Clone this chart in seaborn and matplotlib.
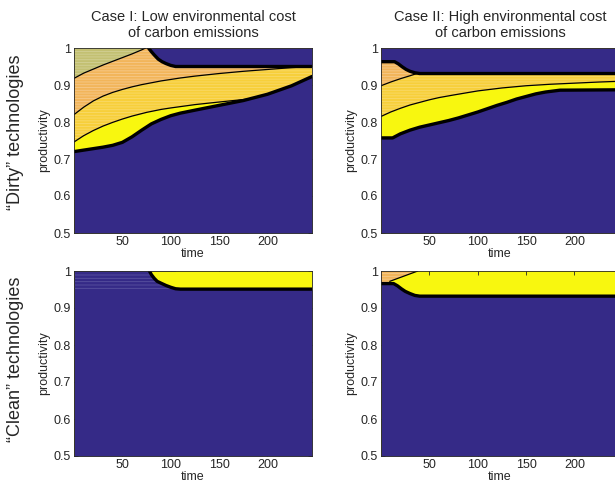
import numpy as np
import matplotlib.pyplot as plt
import seaborn as sns

# ---------------- data ----------------
# colours of the regions (MATLAB parula-like)
BLUE = "#352a87"
YELLOW = "#f8f70f"
GOLD = "#f7cf3a"
ORANGE = "#f2b55a"
OLIVE = "#c3c072"

# Dirty technologies, Case I
d1_olive_t = [0, 10, 20, 30, 40, 50, 60, 70, 74]
d1_olive_y = [0.918, 0.932, 0.943, 0.954, 0.964, 0.974, 0.984, 0.995, 1.0]
d1_gold_t = [0, 10, 20, 30, 40, 50, 60, 70, 80, 90, 100, 110, 125, 150, 175, 200, 225, 246]
d1_gold_y = [0.820, 0.840, 0.857, 0.870, 0.880, 0.888, 0.895, 0.901, 0.906, 0.911,
             0.915, 0.919, 0.924, 0.931, 0.937, 0.942, 0.947, 0.950]
d1_yellow_t = [0, 10, 20, 30, 40, 50, 60, 75, 90, 100, 125, 150, 165, 180]
d1_yellow_y = [0.746, 0.763, 0.777, 0.789, 0.799, 0.808, 0.816, 0.826, 0.834, 0.838,
               0.847, 0.854, 0.858, 0.862]
d1_low_t = [0, 10, 20, 30, 40, 50, 60, 70, 80, 90, 100, 110, 125, 150, 175, 200, 225, 246]
d1_low_y = [0.720, 0.724, 0.728, 0.732, 0.737, 0.745, 0.760, 0.778, 0.795, 0.807,
            0.817, 0.824, 0.832, 0.845, 0.858, 0.875, 0.898, 0.923]
d1_up_t = [77, 80, 83, 87, 91, 95, 100, 105, 246]
d1_up_y = [1.0, 0.990, 0.981, 0.970, 0.963, 0.958, 0.953, 0.950, 0.950]

# Dirty technologies, Case II
d2_orange_t = [0, 10, 20, 30, 37]
d2_orange_y = [0.898, 0.908, 0.917, 0.925, 0.931]
d2_yellow_t = [0, 10, 20, 30, 40, 50, 60, 75, 100, 125, 150, 175, 200, 225, 246]
d2_yellow_y = [0.815, 0.827, 0.837, 0.846, 0.853, 0.860, 0.866, 0.873, 0.884, 0.892,
               0.898, 0.902, 0.905, 0.908, 0.910]
d2_low_t = [0, 12, 20, 30, 40, 50, 60, 70, 80, 90, 100, 110, 120, 130, 140, 150,
            160, 170, 185, 246]
d2_low_y = [0.757, 0.757, 0.768, 0.778, 0.786, 0.792, 0.798, 0.804, 0.811, 0.819,
            0.827, 0.836, 0.845, 0.853, 0.862, 0.869, 0.876, 0.881, 0.886, 0.887]
d2_up_t = [0, 14, 18, 22, 26, 30, 35, 40, 246]
d2_up_y = [0.963, 0.963, 0.957, 0.949, 0.942, 0.937, 0.933, 0.931, 0.931]

# Clean technologies, Case I
c1_t = [0, 78, 80, 83, 86, 90, 95, 100, 105, 110, 246]
c1_y = [1.0, 1.0, 0.990, 0.980, 0.972, 0.967, 0.961, 0.956, 0.952, 0.951, 0.951]

# Clean technologies, Case II
c2_orange_t = [0, 9, 38]
c2_orange_y = [0.966, 0.972, 1.0]
c2_t = [0, 13, 17, 21, 25, 30, 35, 40, 246]
c2_y = [0.966, 0.966, 0.960, 0.952, 0.945, 0.939, 0.934, 0.932, 0.932]

col_titles = ["Case I: Low environmental cost\nof carbon emissions",
              "Case II: High environmental cost\nof carbon emissions"]
row_titles = ["\u201cDirty\u201d technologies", "\u201cClean\u201d technologies"]
x_ticks = [50, 100, 150, 200]
y_ticks = [0.5, 0.6, 0.7, 0.8, 0.9, 1.0]
y_ticklabels = ["0.5", "0.6", "0.7", "0.8", "0.9", "1"]

# ---------------- style ----------------
sns.set_style("ticks")
plt.rcParams["font.family"] = ["Liberation Sans", "DejaVu Sans"]
plt.rcParams["xtick.direction"] = "in"
plt.rcParams["ytick.direction"] = "in"
plt.rcParams["hatch.linewidth"] = 0.6

fig = plt.figure(figsize=(6.15, 4.82), dpi=100)
W, H = 615, 482


def make_axes(x0, y_top):
    return fig.add_axes([x0 / W, 1 - (y_top + 185) / H, 238 / W, 185 / H])


ax_d1 = make_axes(74, 48)
ax_d2 = make_axes(381, 48)
ax_c1 = make_axes(74, 271)
ax_c2 = make_axes(381, 271)


def striped(ax, t, lo, hi, color, stripe):
    # faint horizontal banding like the MATLAB export
    ax.fill_between(t, lo, hi, facecolor=color, edgecolor=stripe, hatch="------", lw=0)


def thin(ax, t, y):
    sns.lineplot(x=t, y=y, ax=ax, color="black", lw=0.9, sort=False, estimator=None)


def thick(ax, t, y):
    sns.lineplot(x=t, y=y, ax=ax, color="black", lw=2.4, sort=False, estimator=None)


# Dirty, case I
ax = ax_d1
striped(ax, [0, 246], 0.5, 1.0, ORANGE, "#f6c98a")
striped(ax, d1_olive_t, d1_olive_y, 1.0, OLIVE, "#d2d095")
striped(ax, d1_gold_t, 0.5, d1_gold_y, GOLD, "#f9da6a")
ax.fill_between(d1_yellow_t, 0.5, d1_yellow_y, color=YELLOW, lw=0)
ax.fill_between(d1_up_t, d1_up_y, 1.0, color=BLUE, lw=0)
thin(ax, d1_olive_t, d1_olive_y)
thin(ax, d1_gold_t, d1_gold_y)
thin(ax, d1_yellow_t, d1_yellow_y)
ax.fill_between(d1_low_t, 0.5, d1_low_y, color=BLUE, lw=0)
thick(ax, d1_low_t, d1_low_y)
thick(ax, d1_up_t, d1_up_y)

# Dirty, case II
ax = ax_d2
striped(ax, [0, 246], 0.5, 1.0, GOLD, "#f9da6a")
striped(ax, d2_orange_t, d2_orange_y, 1.0, ORANGE, "#f6c98a")
ax.fill_between(d2_yellow_t, 0.5, d2_yellow_y, color=YELLOW, lw=0)
ax.fill_between(d2_up_t, d2_up_y, 1.0, color=BLUE, lw=0)
thin(ax, d2_orange_t, d2_orange_y)
thin(ax, d2_yellow_t, d2_yellow_y)
ax.fill_between(d2_low_t, 0.5, d2_low_y, color=BLUE, lw=0)
thick(ax, d2_low_t, d2_low_y)
thick(ax, d2_up_t, d2_up_y)

# Clean, case I
ax = ax_c1
ax.set_facecolor(YELLOW)
ax.fill_between(c1_t, 0.5, c1_y, color=BLUE, lw=0)
ax.fill_between([0, 105], 0.95, 1.0, facecolor="none", edgecolor="#5a52a0",
                hatch="-----", lw=0)
ax.fill_between(c1_t, c1_y, 1.0, color=YELLOW, lw=0)
thick(ax, c1_t[1:], c1_y[1:])

# Clean, case II
ax = ax_c2
ax.set_facecolor(YELLOW)
striped(ax, c2_orange_t, c2_orange_y, 1.0, ORANGE, "#f6c98a")
thin(ax, c2_orange_t[1:], c2_orange_y[1:])
ax.fill_between(c2_t, 0.5, c2_y, color=BLUE, lw=0)
thick(ax, c2_t, c2_y)

for ax in [ax_d1, ax_d2, ax_c1, ax_c2]:
    ax.set_xlim(0, 246)
    ax.set_ylim(0.5, 1.0)
    ax.set_xticks(x_ticks)
    ax.set_yticks(y_ticks)
    ax.set_yticklabels(y_ticklabels)
    ax.tick_params(top=True, right=True, length=3, width=0.6, labelsize=9,
                   labelcolor="#262626", color="#262626", pad=2)
    ax.set_xlabel("time", fontsize=9, color="#262626", labelpad=0)
    ax.set_ylabel("productivity", fontsize=9, color="#262626", labelpad=3)
    for s in ax.spines.values():
        s.set_linewidth(0.6)
        s.set_color("#262626")

for ax, title in zip([ax_d1, ax_d2], col_titles):
    ax.set_title(title, fontsize=10.5, color="#262626", pad=8, linespacing=1.15)

fig.text(16 / W, 1 - 132 / H, row_titles[0], rotation=90, fontsize=13,
         ha="center", va="center")
fig.text(16 / W, 1 - 359 / H, row_titles[1], rotation=90, fontsize=13,
         ha="center", va="center")

plt.savefig("out.png", dpi=100)
plt.close()
